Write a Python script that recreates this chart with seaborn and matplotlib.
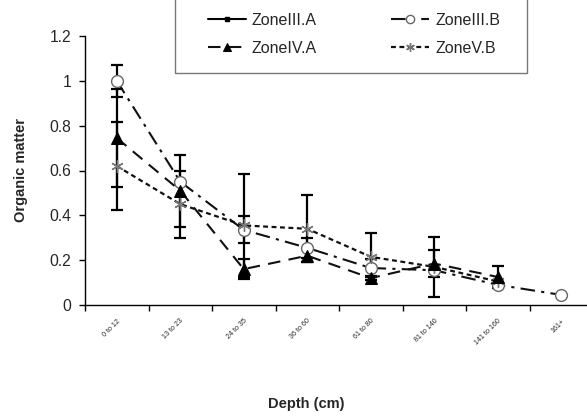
import numpy as np
import matplotlib
matplotlib.use("Agg")
import matplotlib.pyplot as plt
import matplotlib.patches as mpatches
import seaborn as sns

categories = ["0 to 12", "13 to 23", "24 to 35", "36 to 60", "61 to 80",
              "81 to 140", "141 to 160", "161+"]
zone3a = [np.nan] * 8
zone3b = [1.0, 0.55, 0.335, 0.255, 0.165, 0.155, 0.09, 0.045]
zone4a = [0.745, 0.51, 0.16, 0.22, 0.12, 0.185, 0.125, np.nan]
zone5b = [0.62, 0.45, 0.355, 0.34, 0.215, 0.17, 0.105, np.nan]
err3b = [0.07, 0, 0.06, 0.045, 0.04, 0, 0.0, 0]
err4a = [0.22, 0.16, 0.045, 0.03, 0.01, 0.06, 0.05, 0]
err5b = [0.195, 0.15, 0.23, 0.15, 0.105, 0.135, 0.0, 0]
yticks = [0, 0.2, 0.4, 0.6, 0.8, 1, 1.2]
ytick_labels = ["0", "0.2", "0.4", "0.6", "0.8", "1", "1.2"]

sns.set_style("ticks")
plt.rcParams["font.family"] = ["Liberation Sans", "DejaVu Sans"]

W, H = 587, 417
fig = plt.figure(figsize=(W / 100, H / 100), dpi=100)
ax_left, ax_right = 85 / W, 593 / W
ax_bottom, ax_top = 1 - 305 / H, 1 - 36 / H
ax = fig.add_axes([ax_left, ax_bottom, ax_right - ax_left, ax_top - ax_bottom])

x = np.arange(len(categories))

# error bars (behind markers)
for vals, errs in [(zone3b, err3b), (zone4a, err4a), (zone5b, err5b)]:
    v = np.array(vals, float)
    e = np.array(errs, float)
    m = (~np.isnan(v)) & (e > 0)
    ax.errorbar(x[m], v[m], yerr=e[m], fmt="none", ecolor="black",
                elinewidth=1.6, capsize=4, capthick=1.6, zorder=2)

ax.plot(x, zone3a, color="black", lw=1.5, marker="s", markersize=4,
        label="ZoneIII.A", zorder=3)
sns.lineplot(x=x, y=zone3b, ax=ax, color="#111111", lw=1.5,
             linestyle=(0, (7, 3, 1.5, 3)), marker="o", markersize=8.5,
             markerfacecolor="white", markeredgecolor="#666666",
             markeredgewidth=1.0, label="ZoneIII.B", zorder=4)
sns.lineplot(x=x, y=zone4a, ax=ax, color="#111111", lw=1.5,
             linestyle=(0, (6, 4)), marker="^", markersize=8,
             markerfacecolor="black", markeredgecolor="black",
             label="ZoneIV.A", zorder=5)
sns.lineplot(x=x, y=zone5b, ax=ax, color="#111111", lw=1.6,
             linestyle=(0, (2.2, 1.6)), marker=(6, 2, 0), markersize=9,
             markeredgecolor="#777777", markeredgewidth=1.0,
             label="ZoneV.B", zorder=4)

h, l = ax.get_legend_handles_labels()
if ax.get_legend() is not None:
    ax.get_legend().remove()

ax.set_ylim(0, 1.2)
ax.set_xlim(-0.5, len(categories) - 0.5)
ax.set_yticks(yticks)
ax.set_yticklabels(ytick_labels, fontsize=11.3)
ax.set_xticks(np.arange(len(categories) + 1) - 0.5)
ax.set_xticklabels([])
ax.set_xticks(x, minor=True)
ax.set_xticklabels(categories, minor=True, rotation=45, fontsize=5.1,
                   ha="right", va="top", rotation_mode="anchor")
ax.tick_params(axis="x", which="minor", length=0, pad=9)
ax.tick_params(axis="x", which="major", length=4, width=1, color="black")
ax.tick_params(axis="y", length=4, width=1, color="black", pad=6)
for s in ["top", "right"]:
    ax.spines[s].set_visible(False)
for s in ["left", "bottom"]:
    ax.spines[s].set_color("black")
    ax.spines[s].set_linewidth(1.0)

ax.set_ylabel("Organic matter", fontsize=10.5, fontweight="bold", labelpad=15)
ax.set_xlabel("Depth (cm)", fontsize=10.5, fontweight="bold")
ax.xaxis.set_label_coords((306 - 85) / 508, (305 - 397) / 269)

# legend box (its top lies above the figure edge, as in the reference)
box = mpatches.Rectangle((175 / W, 1 - 73 / H), 352 / W, 0.3,
                         transform=fig.transFigure, fill=False,
                         edgecolor="#777777", lw=1.0)
fig.add_artist(box)

d = dict(zip(l, h))
order = ["ZoneIII.A", "ZoneIV.A", "ZoneIII.B", "ZoneV.B"]
leg = fig.legend([d[k] for k in order], order, ncol=2,
                 loc="upper left",
                 bbox_to_anchor=(208 / W, 1 - 72 / H, 292 / W, (72 - 13) / H),
                 mode="expand", frameon=False, fontsize=11.5,
                 handlelength=2.4, handletextpad=0.35, labelspacing=0.8,
                 borderpad=0.0, borderaxespad=0.0, markerscale=0.7)

fig.savefig("out.png", dpi=100)
